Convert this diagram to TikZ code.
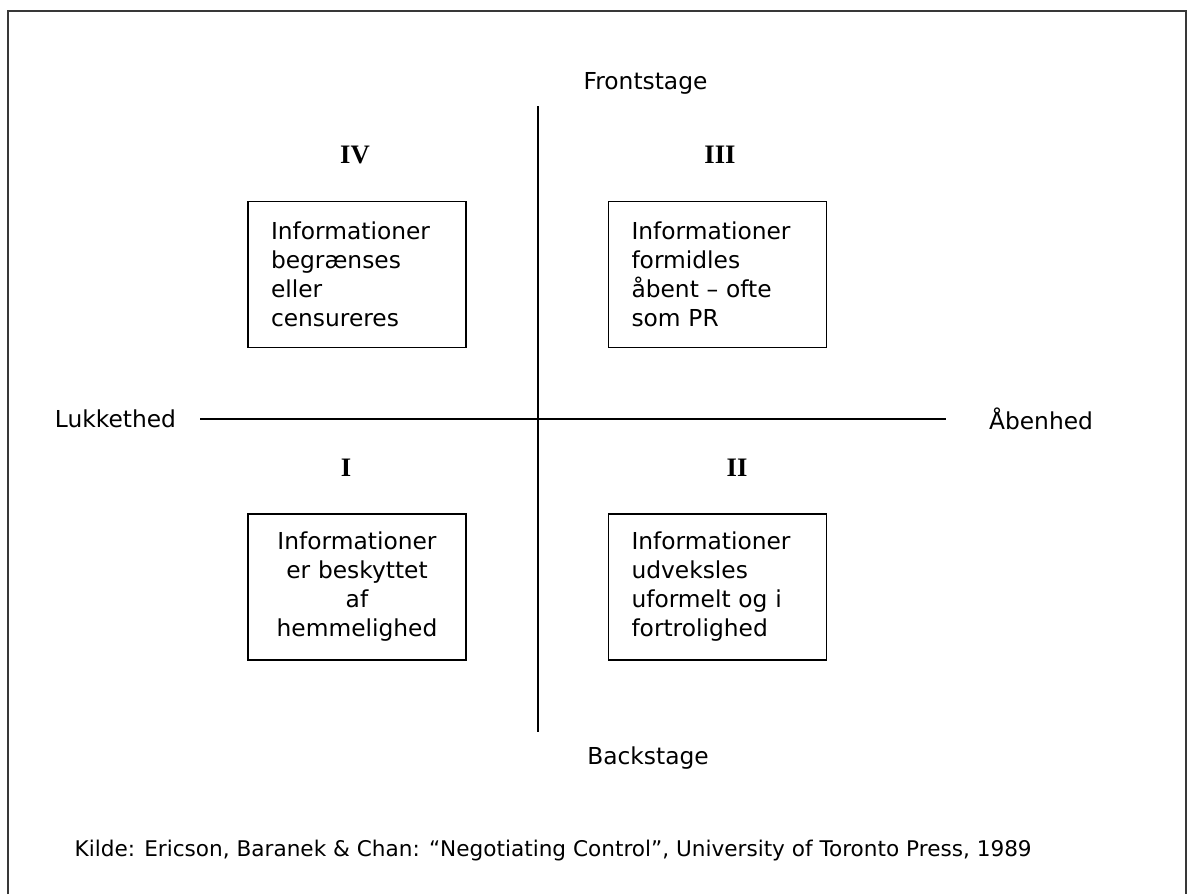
\documentclass[tikz,border=0pt]{standalone}
\usepackage{fontspec}
\setmainfont{DejaVu Sans}
\newfontfamily\numfont{Liberation Serif}
\usetikzlibrary{positioning}

\tikzset{
    infobox/.style={draw, line width=1.1pt, text width=129pt, inner xsep=17.25pt,
        minimum height=109.5pt, align=left, font=\fontsize{17.5}{21.75}\selectfont},
    numeral/.style={font=\numfont\bfseries\fontsize{20}{20}\selectfont},
    axislabel/.style={font=\fontsize{17.5}{21}\selectfont},
    axisline/.style={line width=1.1pt},
}
\newcommand\Quadrant[6]{%
    \node[infobox,#6] (#1) at (#2,#3) {#5};
    \node[numeral] (#1num) at (#4) {\MakeUppercase{#1}};
}

\begin{document}
\begin{tikzpicture}[x=0.75pt,y=-0.75pt]
    \useasboundingbox (0,0) rectangle (1194,894);
    \draw[line width=1.9pt,color=black!78] (8,894) -- (8,11) -- (1186,11) -- (1186,894);
    % akser
    \node[axislabel] (front) at (645.5,83) {Frontstage};
    \node[axislabel] (back) at (648,758) {Backstage};
    \node[axislabel] (closed) at (115.5,419) {Lukkethed};
    \node[axislabel] (open) at (1041,419) {Åbenhed};
    \coordinate (vtop) at (538,106);
    \coordinate (vbot) at (538,732);
    \coordinate (hleft) at (200,419);
    \coordinate (hright) at (946,419);
    \draw[axisline] (vtop) -- (vbot);
    \draw[axisline] (hleft) -- (hright);
    % kvadranter
    \Quadrant{iv}{357}{274.5}{355,155}{Informationer\\begrænses\\eller\\censureres}{}
    \Quadrant{iii}{717.5}{274.5}{720,155}{Informationer\\formidles\\åbent – ofte\\som PR}{}
    \Quadrant{i}{357}{587}{346,468}{Informationer\\er beskyttet\\af\\hemmelighed}{align=center}
    \Quadrant{ii}{717.5}{587}{737,468}{Informationer\\udveksles\\uformelt og i\\fortrolighed}{}
    % kilde
    \node[anchor=west,font=\fontsize{16.2}{20}\selectfont] (source) at (70,851)
        {Kilde: Ericson, Baranek \& Chan: “Negotiating Control”, University of Toronto Press, 1989};
\end{tikzpicture}
\end{document}
